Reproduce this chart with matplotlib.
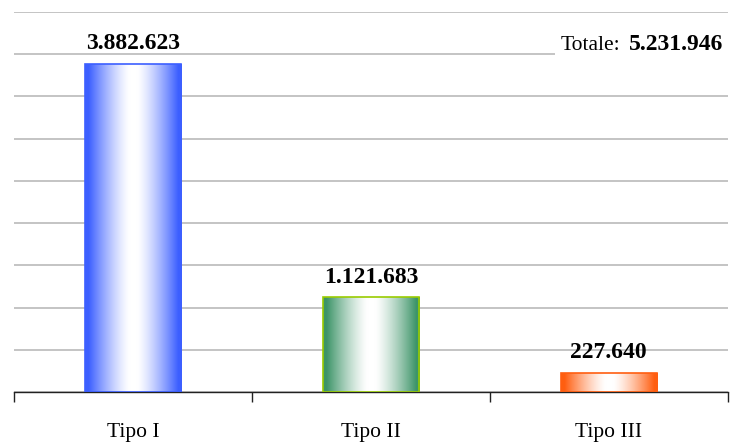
import numpy as np
import matplotlib
matplotlib.use("Agg")
import matplotlib.pyplot as plt
from matplotlib.colors import to_rgb

# values per type
categories = ["Tipo I", "Tipo II", "Tipo III"]
values = [3882623, 1121683, 227640]
side_colors = ["#3c5fff", "#3d9468", "#ff5e10"]
border_colors = ["#3c5fff", "#99cc00", "#ff5e10"]

plt.rcParams['font.family'] = ['Liberation Serif', 'DejaVu Serif']


def fmt(v):
    # italian thousands separator
    return f"{v:,}".replace(",", ".")


def gradient(color, n=256):
    # side colour at both edges, white in the middle
    t = np.abs(np.linspace(-1, 1, n))
    t = np.clip((t - 0.08) / 0.85, 0, 1) ** 1.3
    c = np.array(to_rgb(color))
    w = np.ones(3)
    row = w[None, :] + (c - w)[None, :] * t[:, None]
    return row[None, :, :]


fig = plt.figure(figsize=(7.4, 4.42), dpi=100)
ax = fig.add_axes([14 / 740, 50 / 442, 713.7 / 740, 380 / 442])

x = np.arange(len(categories))
bars = ax.bar(x, values, width=0.405, color="none",
              edgecolor=border_colors, linewidth=1.2, zorder=3)

for b, col in zip(bars, side_colors):
    x0 = b.get_x()
    x1 = x0 + b.get_width()
    im = ax.imshow(gradient(col), extent=[x0, x1, 0, b.get_height()],
                   aspect="auto", interpolation="bilinear", zorder=2)
    im.set_clip_path(b)

for b, v in zip(bars, values):
    ax.annotate(fmt(v), (b.get_x() + b.get_width() / 2, v),
                xytext=(0, 7), textcoords="offset points",
                ha="center", va="bottom", fontsize=17, fontweight="bold")

ax.set_xlim(-0.5, 2.5)
ax.set_ylim(0, 4500000)
ax.set_yticks(np.arange(0, 4500001, 500000))
ax.yaxis.grid(True, color="#b4b4b4", linewidth=1.1)
ax.set_axisbelow(True)
ax.tick_params(axis="y", left=False, labelleft=False)

ax.set_xticks(x)
ax.set_xticklabels(categories, fontsize=15.5)
ax.set_xticks([-0.5, 0.5, 1.5, 2.5], minor=True)
ax.tick_params(axis="x", which="major", length=0, pad=22)
ax.tick_params(axis="x", which="minor", length=7, width=1, color="#222222")

for s in ["left", "right", "top"]:
    ax.spines[s].set_visible(False)
ax.spines["bottom"].set_color("#222222")
ax.spines["bottom"].set_linewidth(1)

total = sum(values)
num = ax.text(723 / 740, 1 - 45 / 442, fmt(total), transform=fig.transFigure,
              ha="right", va="center", fontsize=17, fontweight="bold",
              bbox=dict(facecolor="white", edgecolor="none", pad=4), zorder=5)
ax.annotate("Totale:", xy=(0, 0.5), xycoords=num, xytext=(-6, 0),
            textcoords="offset points", ha="right", va="center",
            fontsize=15.5, zorder=5,
            bbox=dict(facecolor="white", edgecolor="none", pad=4))

fig.savefig("out.png", dpi=100, facecolor="white")
